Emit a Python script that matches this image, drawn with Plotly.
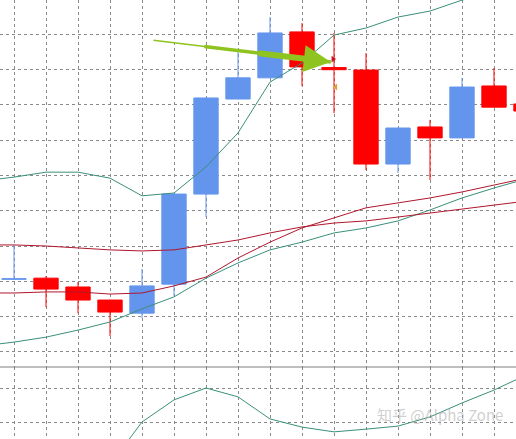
import plotly.graph_objects as go

# candle index positions (one bar per grid column)
idx = list(range(17))

opens = [120.6, 120.9, 118.4, 114.7, 111.0, 119.2, 144.7, 171.6, 177.6, 190.6,
         180.5, 179.8, 153.2, 163.7, 160.6, 175.3, 170.2]
highs = [130.3, 121.5, 119.8, 114.8, 123.5, 144.8, 172.0, 185.5, 194.8, 193.1,
         190.3, 184.6, 163.5, 165.7, 177.6, 180.4, 171.3]
lows = [120.5, 112.7, 111.0, 104.5, 109.6, 115.9, 138.2, 171.5, 177.5, 175.3,
        167.6, 151.5, 150.7, 148.7, 160.5, 169.2, 166.8]
closes = [120.7, 117.8, 114.7, 111.3, 118.7, 144.7, 171.9, 177.6, 190.3, 180.7,
          179.9, 153.2, 163.4, 160.6, 175.0, 169.3, 168.2]

# indicator lines, starting one bar before the first candle
line_idx = list(range(-1, 17))
bb_upper = [148.4, 149.5, 150.9, 150.9, 149.2, 144.2, 145.0, 152.4, 162.0, 176.4,
            181.8, 189.7, 191.7, 194.8, 196.5, 199.6, 201.9, 203.9]
bb_lower = [101.7, 102.8, 104.2, 106.2, 108.5, 112.2, 115.6, 120.9, 125.2, 128.9,
            131.1, 133.7, 135.1, 137.1, 140.2, 143.6, 146.4, 149.0]
ma_slow = [130.3, 130.3, 130.0, 129.4, 128.9, 128.6, 128.9, 130.3, 131.7, 133.7,
           135.4, 136.5, 137.1, 138.2, 139.3, 140.5, 141.6, 142.7]
ma_fast = [116.7, 116.7, 117.0, 117.0, 116.4, 116.7, 118.7, 121.2, 126.6, 131.1,
           135.1, 137.9, 140.8, 142.2, 143.6, 145.3, 147.3, 149.2]

# lower panel oscillator
osc_idx = list(range(3, 17))
osc = [-12.6, 0.0, 6.5, 10.0, 7.4, 0.9, -1.5, -2.9, -2.1, -1.2, 1.5, 5.6, 9.4, 13.8]

# order markers on the doji bar
order_x = [9.97, 10.05]
order_y = [182.9, 175.0]

BLUE = "#6495ED"
RED = "#FF0000"
GREEN = "#3a8f7a"
DARKRED = "#b0162c"
GRID = "#8a8a8a"

fig = go.Figure()

for vals in (bb_upper, bb_lower):
    fig.add_trace(go.Scatter(x=line_idx, y=vals, mode="lines",
                             line=dict(color=GREEN, width=1), hoverinfo="skip"))
for vals in (ma_slow, ma_fast):
    fig.add_trace(go.Scatter(x=line_idx, y=vals, mode="lines",
                             line=dict(color=DARKRED, width=1), hoverinfo="skip"))

fig.add_trace(
    go.Candlestick(
        x=idx, open=opens, high=highs, low=lows, close=closes,
        increasing=dict(line=dict(color=BLUE, width=1), fillcolor=BLUE),
        decreasing=dict(line=dict(color=RED, width=1), fillcolor=RED),
        whiskerwidth=0,
    )
)

fig.add_trace(go.Scatter(
    x=order_x, y=order_y, mode="markers",
    marker=dict(symbol=["triangle-right", "triangle-left"], size=6,
                color=["#d01020", "#e0a040"]),
    hoverinfo="skip",
))

fig.add_trace(go.Scatter(x=osc_idx, y=osc, mode="lines", xaxis="x2", yaxis="y2",
                         line=dict(color=GREEN, width=1), hoverinfo="skip"))

# big green arrow pointing at the doji, drawn in three widths for a taper
fig.add_annotation(x=9.9, y=182.1, ax=4.31, ay=188.3, axref="x", ayref="y",
                   xref="x", yref="y", text="", showarrow=True,
                   arrowcolor="#8fc31f", arrowwidth=1.5, arrowhead=0)
fig.add_annotation(x=9.9, y=182.1, ax=5.9, ay=186.5, axref="x", ayref="y",
                   xref="x", yref="y", text="", showarrow=True,
                   arrowcolor="#8fc31f", arrowwidth=3.5, arrowhead=0)
fig.add_annotation(x=9.9, y=182.1, ax=7.6, ay=184.6, axref="x", ayref="y",
                   xref="x", yref="y", text="", showarrow=True,
                   arrowcolor="#8fc31f", arrowwidth=6, arrowhead=2, arrowsize=0.9)

fig.add_annotation(text="知乎 @Alpha Zone", xref="paper", yref="paper",
                   x=0.853, y=0.055, xanchor="center", yanchor="middle",
                   showarrow=False,
                   font=dict(family="Noto Sans CJK SC", size=15,
                             color="rgba(165,165,165,0.55)"))

# panel separator
fig.add_shape(type="line", xref="paper", yref="paper", x0=0, x1=1,
              y0=0.164, y1=0.164, line=dict(color="#808080", width=1))

axis_common = dict(showgrid=True, gridcolor=GRID, griddash="3px,3px", gridwidth=1,
                   showticklabels=False, ticks="", zeroline=False, showline=False)

fig.update_layout(
    width=516,
    height=439,
    margin=dict(l=0, r=0, t=0, b=0),
    paper_bgcolor="white",
    plot_bgcolor="white",
    showlegend=False,
    boxgap=0.24,
    boxgroupgap=0,
    xaxis=dict(range=[-0.4375, 15.6875], dtick=1, tick0=0, anchor="y",
               rangeslider=dict(visible=False), **axis_common),
    yaxis=dict(range=[95.75, 199.63], dtick=10, tick0=100, domain=[0.164, 1],
               **axis_common),
    xaxis2=dict(range=[-0.4375, 15.6875], dtick=1, tick0=0, anchor="y2",
                matches="x", **axis_common),
    yaxis2=dict(range=[-5.0, 16.18], dtick=10, tick0=0, domain=[0, 0.164],
                **axis_common),
)

fig.write_html("out.html", config={"displayModeBar": False},
               post_script="document.body.style.margin='0';")
